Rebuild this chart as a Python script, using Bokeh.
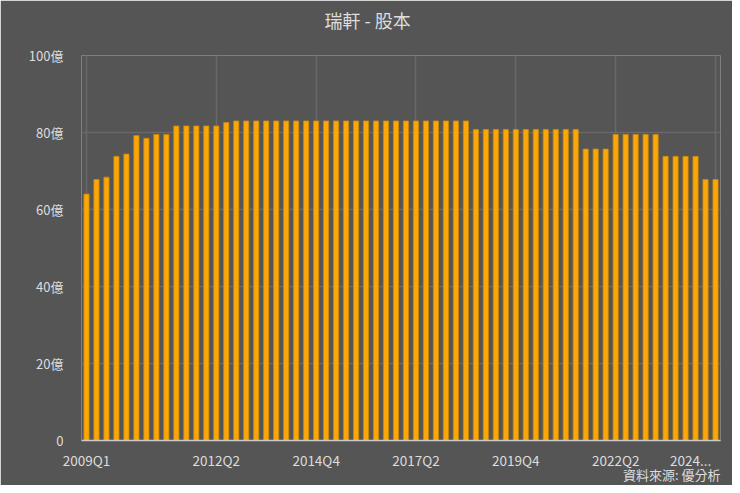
from bokeh.plotting import figure
from bokeh.models import FixedTicker, Range1d, Title, ColumnDataSource
from bokeh.embed import file_html
from bokeh.resources import INLINE

# ---- data ----
quarters = [f"{y}Q{q}" for y in range(2009, 2025) for q in range(1, 5)]
capital = [
    64.0, 67.8, 68.4, 73.8, 74.4, 79.2, 78.5, 79.5, 79.5,
    81.7, 81.7, 81.7, 81.7, 81.7,
    82.6,
    83.0, 83.0, 83.0, 83.0, 83.0, 83.0, 83.0, 83.0, 83.0, 83.0, 83.0, 83.0,
    83.0, 83.0, 83.0, 83.0, 83.0, 83.0, 83.0, 83.0, 83.0, 83.0, 83.0, 83.0,
    80.8, 80.8, 80.8, 80.8, 80.8, 80.8, 80.8, 80.8, 80.8, 80.8, 80.8,
    75.7, 75.7, 75.7,
    79.5, 79.5, 79.5, 79.5, 79.5,
    73.8, 73.8, 73.8, 73.8,
    67.8, 67.8,
]
x_tick_labels = ["2009Q1", "2012Q2", "2014Q4", "2017Q2", "2019Q4", "2022Q2", "2024Q4"]
y_ticks = [0, 20, 40, 60, 80, 100]
y_tick_labels = ["0", "20億", "40億", "60億", "80億", "100億"]
title_text = "瑞軒 - 股本"
source_text = "資料來源: 優分析"

BG = "#555555"
TXT = "#dddddd"
GRID = "#686868"
FONT = "Noto Sans CJK TC"

idx = list(range(len(quarters)))
src = ColumnDataSource(dict(x=idx, top=capital, q=quarters))

p = figure(width=732, height=485, output_backend="svg", toolbar_location=None,
           x_range=Range1d(-0.5, len(quarters) - 0.5), y_range=Range1d(0, 100),
           background_fill_color=BG, border_fill_color=BG, outline_line_color=None,
           min_border_left=81, min_border_right=12, min_border_top=55, min_border_bottom=45)

p.vbar(x="x", top="top", width=0.52, source=src, fill_color="#FBA70A",
       line_color="#C98606", line_width=0.8)

# axes
x_tick_pos = [quarters.index(t) for t in x_tick_labels]
p.xaxis.ticker = FixedTicker(ticks=x_tick_pos)
overrides = {pos: lab for pos, lab in zip(x_tick_pos, x_tick_labels)}
# last label is truncated and sits left of its tick in the original
overrides[x_tick_pos[-1]] = x_tick_labels[-1][:4] + "..." + "\u00a0" * 7
p.xaxis.major_label_overrides = overrides
p.xaxis.axis_line_color = "#cccccc"
p.xaxis.axis_line_width = 1.5
p.xaxis.major_tick_line_color = None
p.xaxis.minor_tick_line_color = None
p.xaxis.major_tick_out = 0
p.xaxis.major_tick_in = 0
p.xaxis.major_label_standoff = 9
p.xaxis.major_label_text_color = TXT
p.xaxis.major_label_text_font = FONT
p.xaxis.major_label_text_font_size = "13.5px"

p.yaxis.ticker = FixedTicker(ticks=y_ticks)
p.yaxis.major_label_overrides = {t: l for t, l in zip(y_ticks, y_tick_labels)}
p.yaxis.axis_line_color = None
p.yaxis.major_tick_line_color = None
p.yaxis.minor_tick_line_color = None
p.yaxis.major_tick_out = 0
p.yaxis.major_tick_in = 0
p.yaxis.major_label_standoff = 18
p.yaxis.major_label_text_color = TXT
p.yaxis.major_label_text_font = FONT
p.yaxis.major_label_text_font_size = "13px"

p.xgrid.grid_line_color = GRID
p.ygrid.grid_line_color = GRID
p.xgrid.grid_line_width = 1.5
p.ygrid.grid_line_width = 1.5

# spacer between frame and title, then the title
p.add_layout(Title(text="\u00a0", standoff=17, text_font_size="1px",
                   text_color=BG), "above")
p.add_layout(Title(text=title_text, align="left", offset=243, standoff=6,
                   text_color=TXT, text_font=FONT, text_font_size="18px",
                   text_font_style="normal"), "above")
p.add_layout(Title(text=source_text, align="right", offset=0, standoff=-20,
                   text_color=TXT, text_font=FONT, text_font_size="13px",
                   text_font_style="normal"), "below")

open("out.html", "w").write(file_html(p, INLINE))
